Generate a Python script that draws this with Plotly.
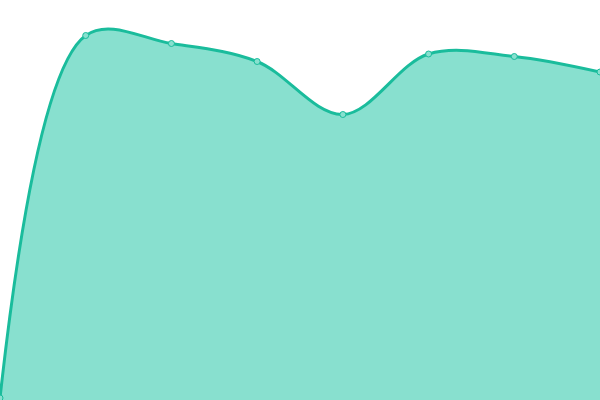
import plotly.graph_objects as go

x_values = [0, 1, 2, 3, 4, 5, 6, 7]
y_values = [2, 364.5, 356.5, 338.5, 285.5, 346, 343.5, 328]

line_color = "#1abc9c"
fill_color = "#88e0cf"

fig = go.Figure(
    data=[
        go.Scatter(
            x=x_values,
            y=y_values,
            mode="lines+markers",
            line={"color": line_color, "width": 3, "shape": "spline", "smoothing": 1},
            marker={"size": 6, "color": fill_color, "line": {"color": line_color, "width": 1}},
            fill="tozeroy",
            fillcolor=fill_color,
            cliponaxis=False,
        )
    ],
    layout={
        "width": 600,
        "height": 400,
        "margin": {"l": 0, "r": 0, "t": 0, "b": 0},
        "paper_bgcolor": "white",
        "plot_bgcolor": "white",
        "showlegend": False,
        "xaxis": {"visible": False, "range": [0, 7]},
        "yaxis": {"visible": False, "range": [0, 400]},
    },
)

# page body has a default 8px margin, drop it so the chart fills the window
fig.write_html(
    "out.html",
    config={"displayModeBar": False},
    post_script="document.body.style.margin = '0';",
)
